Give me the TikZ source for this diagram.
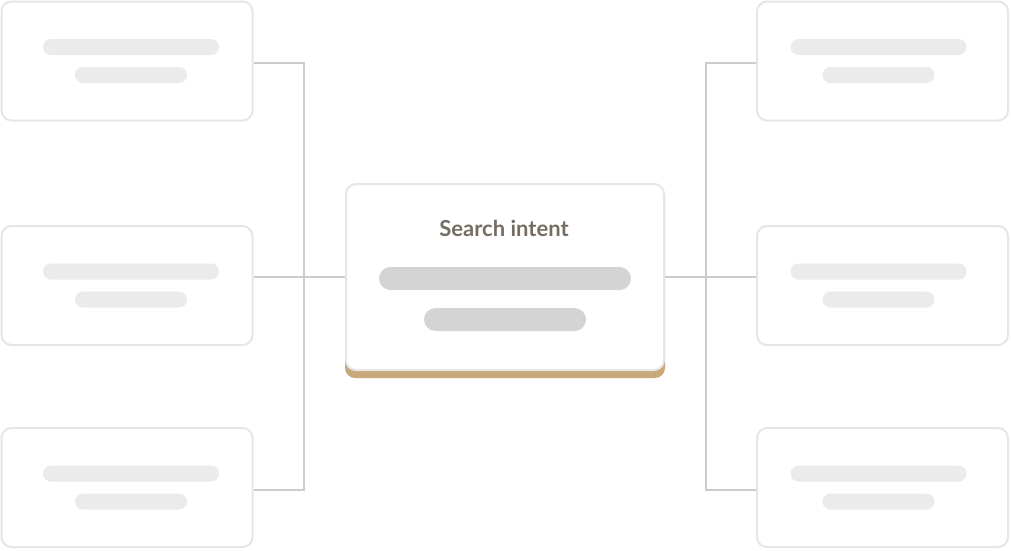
\documentclass[tikz,border=0pt]{standalone}
\usepackage{fontspec}
\setmainfont{Lato}
\definecolor{cardline}{HTML}{E6E6E6}
\definecolor{barfill}{HTML}{EBEBEB}
\definecolor{cbarfill}{HTML}{D4D4D4}
\definecolor{linkcol}{HTML}{CCCCCC}
\definecolor{tan}{HTML}{C8A87A}
\definecolor{titlecol}{HTML}{756D63}
\begin{document}
\begin{tikzpicture}[x=1pt,y=-1pt,
  card/.style={draw=cardline, line width=2pt, fill=white, rounded corners=10pt, minimum width=251pt, minimum height=119pt, inner sep=0pt},
  bar/.style={fill=barfill, rounded corners=8pt, minimum height=16pt, inner sep=0pt},
  cbar/.style={fill=cbarfill, rounded corners=11.5pt, minimum height=23pt, inner sep=0pt},
  link/.style={draw=linkcol, line width=2pt}]
\useasboundingbox (0,0) rectangle (1011,550);
% left cards
\foreach \n/\y in {1/61,2/285.5,3/487.5}{
  \node[card] (l\n) at (127,\y) {};
  \node[bar, minimum width=176pt] (l\n a) at (131,\y-14) {};
  \node[bar, minimum width=112pt] (l\n b) at (131,\y+14) {};
  \node[card] (r\n) at (882.5,\y) {};
  \node[bar, minimum width=176pt] (r\n a) at (878.5,\y-14) {};
  \node[bar, minimum width=112pt] (r\n b) at (878.5,\y+14) {};
}
% center card
\node[fill=tan, rounded corners=10pt, minimum width=320pt, minimum height=192pt, inner sep=0pt] (cs) at (505,282) {};
\node[draw=cardline, line width=2pt, fill=white, rounded corners=10pt, minimum width=318pt, minimum height=186pt, inner sep=0pt] (c) at (505,277) {};
\node[text=titlecol, font=\bfseries\fontsize{22}{26}\selectfont] (title) at (504,228) {Search intent};
\node[cbar, minimum width=252pt] (ca) at (505,278.5) {};
\node[cbar, minimum width=162pt] (cb) at (505,319.5) {};
% connectors
\coordinate (lj) at (304,277);
\coordinate (rj) at (706,277);
\draw[link] ([yshift=-2pt]l1.east) -| (lj);
\draw[link] ([yshift=-2.5pt]l3.east) -| (lj);
\draw[link] (c.west) -- (c.west -| l2.east);
\draw[link] ([yshift=-2pt]r1.west) -| (rj);
\draw[link] ([yshift=-2.5pt]r3.west) -| (rj);
\draw[link] (c.east) -- (c.east -| r2.west);
\end{tikzpicture}
\end{document}
